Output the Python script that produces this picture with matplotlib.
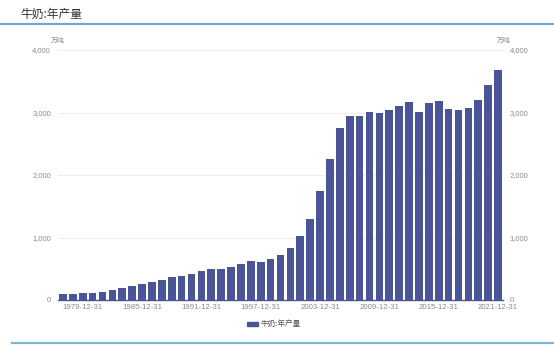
import matplotlib
matplotlib.use("Agg")
import matplotlib.pyplot as plt
from matplotlib.patches import Rectangle
from matplotlib.lines import Line2D

plt.rcParams['font.family'] = ['Liberation Sans', 'Noto Sans CJK SC', 'DejaVu Sans']

# Annual milk output, 10k tonnes
years = list(range(1977, 2022))
output = [90, 88.3, 107.3, 114.6, 129.1, 161.8, 184.5, 218.6, 249.9, 285.3,
          325.0, 366.0, 381.3, 415.7, 464.6, 503.1, 498.6, 528.8, 576.4, 629.4,
          601.1, 662.9, 717.6, 827.4, 1025.5, 1299.8, 1746.3, 2260.6, 2753.4, 2944.6,
          2947.1, 3010.6, 2995.1, 3038.9, 3109.9, 3174.9, 3000.8, 3159.9, 3179.8, 3064.0,
          3038.6, 3074.6, 3201.2, 3440.1, 3682.7]
labels = [f"{y}-12-31" for y in years]
yticks = [0, 1000, 2000, 3000, 4000]
title = "牛奶:年产量"
unit = "万吨"

BAR = '#4a5597'
GREY = '#8a8a8a'
CJK = ['Noto Sans CJK SC', 'DejaVu Sans']

W, H = 554, 347
fig = plt.figure(figsize=(W / 100, H / 100), dpi=100)
ax = fig.add_axes([58 / W, 1 - 300 / H, (503 - 58) / W, 250 / H])

x = list(range(len(years)))
ax.bar(x, output, width=0.78, color=BAR, zorder=3)
ax.set_xlim(-0.5, len(years) - 0.5)
ax.set_ylim(0, 4000)

ax.set_yticks(yticks)
ax.set_yticklabels([f"{v:,}" for v in yticks])
ax.tick_params(axis='y', length=0, labelsize=5.5, labelcolor=GREY, pad=5,
               labelright=True, labelleft=True)
ax.grid(axis='y', color='#eeeeee', linewidth=0.8, zorder=0)

tick_idx = list(range(2, len(years), 6))
ax.set_xticks(tick_idx)
ax.set_xticklabels([labels[i] for i in tick_idx])
ax.tick_params(axis='x', length=0, labelsize=5.6, labelcolor=GREY, pad=3)

for s in ('top', 'left', 'right'):
    ax.spines[s].set_visible(False)
ax.spines['bottom'].set_color(BAR)
ax.spines['bottom'].set_linewidth(1.0)
ax.spines['bottom'].set_zorder(4)

# unit labels above each y axis
fig.text(58 / W, 1 - 41 / H, unit, fontsize=5, color=GREY, ha='center', va='center', family=CJK)
fig.text(504 / W, 1 - 41 / H, unit, fontsize=5, color=GREY, ha='center', va='center', family=CJK)

# title and separator lines
fig.text(20 / W, 1 - 14 / H, title, fontsize=8.5, color='#333333', ha='left', va='center', family=CJK)
fig.add_artist(Line2D([0, 1], [1 - 24 / H, 1 - 24 / H], transform=fig.transFigure,
                      color='#6fa6d6', linewidth=1.6))
fig.add_artist(Line2D([12 / W, 1], [1 - 343 / H, 1 - 343 / H], transform=fig.transFigure,
                      color='#7fb3d5', linewidth=1.6))

# legend
fig.add_artist(Rectangle((247 / W, 1 - 326 / H), 11 / W, 4 / H, transform=fig.transFigure,
                         color=BAR))
fig.text(261 / W, 1 - 324 / H, title, fontsize=5.5, color='#555555', ha='left', va='center', family=CJK)

fig.savefig('out.png', dpi=100)
